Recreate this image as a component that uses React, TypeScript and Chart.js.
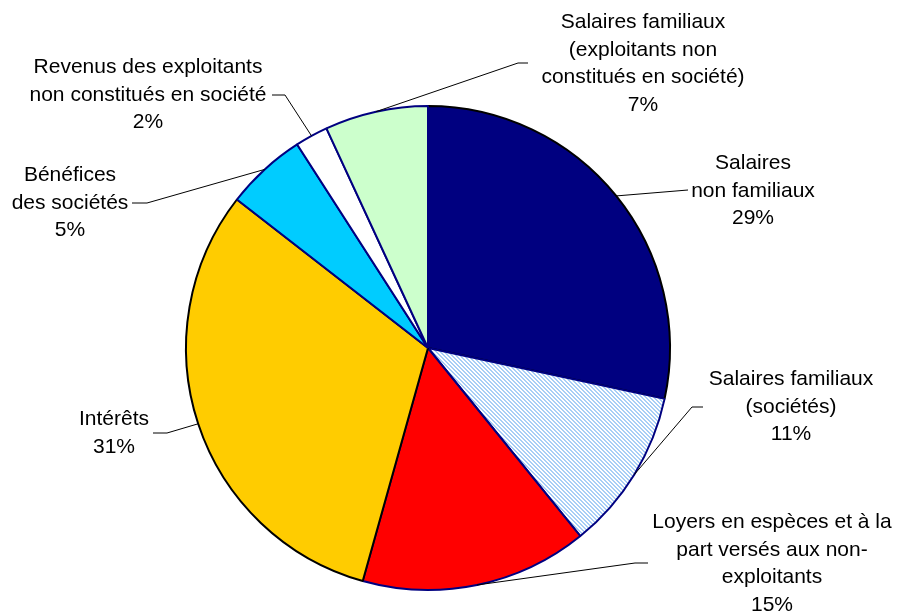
import React, { useEffect, useRef } from "react";
import { Chart, registerables } from "chart.js";

Chart.register(...registerables);

const categories = [
  "Salaires non familiaux",
  "Salaires familiaux (sociétés)",
  "Loyers en espèces et à la part versés aux non-exploitants",
  "Intérêts",
  "Bénéfices des sociétés",
  "Revenus des exploitants non constitués en société",
  "Salaires familiaux (exploitants non constitués en société)",
];
const values = [28.4, 10.8, 15.2, 31.2, 5.4, 2.2, 6.9];
const percentLabels = ["29%", "11%", "15%", "31%", "5%", "2%", "7%"];
const labelLines = [
  ["Salaires", "non familiaux"],
  ["Salaires familiaux", "(sociétés)"],
  ["Loyers en espèces et à la", "part versés aux non-", "exploitants"],
  ["Intérêts"],
  ["Bénéfices", "des sociétés"],
  ["Revenus des exploitants", "non constitués en société"],
  ["Salaires familiaux", "(exploitants non", "constitués en société)"],
];

// style: label layout relative to pie centre (px)
// tx: text centre x, ty: first line y, elbow: leader elbow point, end: leader end point
const labelLayout = [
  { tx: 325, ty: -185, elbow: null, end: [260, -158] },
  { tx: 363, ty: 31, elbow: [264, 59], end: [275, 59] },
  { tx: 344, ty: 174, elbow: [207, 215], end: [220, 215] },
  { tx: -314, ty: 71, elbow: [-261, 85], end: [-275, 85] },
  { tx: -358, ty: -173, elbow: [-281, -145], end: [-296, -145] },
  { tx: -280, ty: -281, elbow: [-143, -253], end: [-156, -253] },
  { tx: 215, ty: -326, elbow: [90, -285], end: [100, -285] },
];

const sliceColors = ["#000080", "HATCH", "#FF0000", "#FFCC00", "#00CCFF", "#FFFFFF", "#CCFFCC"];
const sliceBorders = ["#000000", "#000080", "#000080", "#000000", "#000080", "#000080", "#000080"];

function makeHatch(ctx: CanvasRenderingContext2D) {
  const c = document.createElement("canvas");
  c.width = 4;
  c.height = 4;
  const pc = c.getContext("2d")!;
  const img = pc.createImageData(4, 4);
  for (let y = 0; y < 4; y++) {
    for (let x = 0; x < 4; x++) {
      const i = (y * 4 + x) * 4;
      const on = ((x - y + 8) % 4) < 2;
      img.data[i] = on ? 168 : 255;
      img.data[i + 1] = on ? 206 : 255;
      img.data[i + 2] = on ? 246 : 255;
      img.data[i + 3] = 255;
    }
  }
  pc.putImageData(img, 0, 0);
  return ctx.createPattern(c, "repeat")!;
}

const labelPlugin = {
  id: "leaderLabels",
  afterDatasetsDraw(chart: any) {
    const ctx = chart.ctx as CanvasRenderingContext2D;
    const meta = chart.getDatasetMeta(0);
    const font = '21px "Liberation Sans", Arial, sans-serif';
    const lh = 27.8;
    meta.data.forEach((arc: any, i: number) => {
      const cx = arc.x;
      const cy = arc.y;
      const r = arc.outerRadius;
      const mid = (arc.startAngle + arc.endAngle) / 2;
      const ex = cx + r * Math.cos(mid);
      const ey = cy + r * Math.sin(mid);
      const L = labelLayout[i];
      ctx.save();
      ctx.strokeStyle = "#000";
      ctx.lineWidth = 1;
      ctx.beginPath();
      ctx.moveTo(ex, ey);
      if (L.elbow) ctx.lineTo(cx + L.elbow[0], cy + L.elbow[1]);
      ctx.lineTo(cx + L.end[0], cy + L.end[1]);
      ctx.stroke();
      ctx.fillStyle = "#000";
      ctx.font = font;
      ctx.textAlign = "center";
      ctx.textBaseline = "middle";
      const lines = [...labelLines[i], percentLabels[i]];
      lines.forEach((t, k) => {
        ctx.fillText(t, cx + L.tx, cy + L.ty + k * lh);
      });
      ctx.restore();
    });
  },
};

export default function App() {
  const ref = useRef<HTMLCanvasElement>(null);
  useEffect(() => {
    document.body.style.margin = "0";
    const canvas = ref.current!;
    const ctx = canvas.getContext("2d")!;
    const hatch = makeHatch(ctx);
    const chart = new Chart(canvas, {
      type: "pie",
      data: {
        labels: categories,
        datasets: [
          {
            data: values,
            backgroundColor: sliceColors.map((c) => (c === "HATCH" ? hatch : c)) as any,
            borderColor: sliceBorders,
            borderWidth: 2,
          },
        ],
      },
      options: {
        animation: false,
        responsive: false,
        maintainAspectRatio: false,
        layout: { padding: { left: 185, right: 227, top: 105, bottom: 25 } },
        plugins: {
          legend: { display: false },
          tooltip: { enabled: false },
        },
      },
      plugins: [labelPlugin],
    });
    return () => chart.destroy();
  }, []);
  return (
    <div style={{ position: "fixed", left: 0, top: 0, width: 898, height: 616, background: "#fff" }}>
      <canvas ref={ref} width={898} height={616} style={{ width: 898, height: 616 }} />
    </div>
  );
}
